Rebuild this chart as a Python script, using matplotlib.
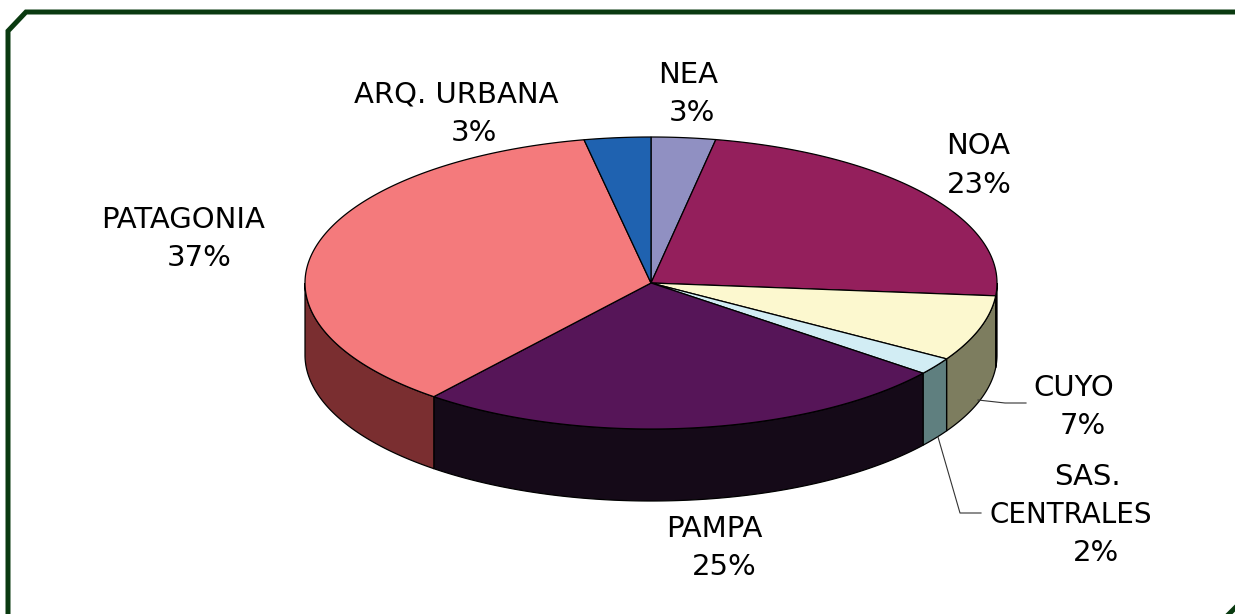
"""Pie chart in fake 3D, regions by share."""

import matplotlib
matplotlib.use("Agg")
import matplotlib.pyplot as plt
import numpy as np

names = ["NEA", "NOA", "CUYO", "SAS.\nCENTRALES", "PAMPA", "PATAGONIA", "ARQ. URBANA"]
# slice sizes as measured on the picture, printed labels are rounded differently
values = [3.0, 23.4, 7.3, 1.9, 25.2, 36.1, 3.1]
percent_labels = ["3%", "23%", "7%", "2%", "25%", "37%", "3%"]
top_colors = ["#9090c2", "#941f5c", "#fcf8cf", "#d2edf4", "#561558", "#f47a7c", "#1f62b0"]
side_colors = ["#4a4a62", "#2a0a1c", "#7d7d5f", "#5f7f7f", "#150a18", "#7a2e30", "#10305a"]

CX, CY = 651, 283
RX, RY = 346, 146
DEPTH = 72
LINE = "#0a3a10"

fig = plt.figure(figsize=(12.35, 6.14), dpi=100)
ax = fig.add_axes([0, 0, 1, 1])
ax.set_xlim(0, 1235)
ax.set_ylim(614, 0)
ax.axis("off")


def rim(a0, a1, dy=0.0):
    """Points on the ellipse, angle in degrees clockwise from the top."""
    t = np.radians(np.linspace(a0, a1, max(int(abs(a1 - a0) * 2), 2)))
    return CX + RX * np.sin(t), CY - RY * np.cos(t) + dy


# frame, it runs off the right and bottom of the picture
ax.plot([1240, 26, 8, 8], [12, 12, 31, 620], color=LINE, lw=3.6, solid_joinstyle="miter")
ax.plot([1227, 1241], [616, 602], color=LINE, lw=3.6)

edges = np.cumsum([0] + values) / sum(values) * 360

# walls first, only the front half of the rim shows
for i in range(len(values)):
    a0, a1 = max(edges[i], 90), min(edges[i + 1], 270)
    if a1 <= a0:
        continue
    x, y = rim(a0, a1)
    xb, yb = rim(a0, a1, DEPTH)
    ax.fill(np.r_[x, xb[::-1]], np.r_[y, yb[::-1]], facecolor=side_colors[i],
            edgecolor="black", lw=0.9)

for i in range(len(values)):
    x, y = rim(edges[i], edges[i + 1])
    ax.fill(np.r_[CX, x], np.r_[CY, y], facecolor=top_colors[i], edgecolor="black", lw=0.9)

# leader lines
ax.plot([978, 1005, 1026], [400, 403, 403], color="#333333", lw=0.8)
ax.plot([938, 960, 981], [437, 513, 513], color="#333333", lw=0.8)

name_pos = [(688, 75), (978, 146), (1074, 388), (1087, 477), (714, 529), (183, 220), (456, 95)]
pct_pos = [(692, 113), (979, 185), (1083, 426), (1096, 553), (724, 567), (199, 258), (474, 133)]
text_style = dict(color="black", ha="center", va="center", family="DejaVu Sans")

for name, pos, pct, ppos in zip(names, name_pos, percent_labels, pct_pos):
    lines = name.split("\n")
    for k, line in enumerate(lines):
        # second line of the long label sits lower and further left, and is narrower
        px = pos[0] if k == 0 else 1071
        ax.text(px, pos[1] + 38 * k, line, fontsize=21 if k == 0 else 20, **text_style)
    ax.text(ppos[0], ppos[1], pct, fontsize=21, **text_style)

fig.savefig("out.png", dpi=100)
